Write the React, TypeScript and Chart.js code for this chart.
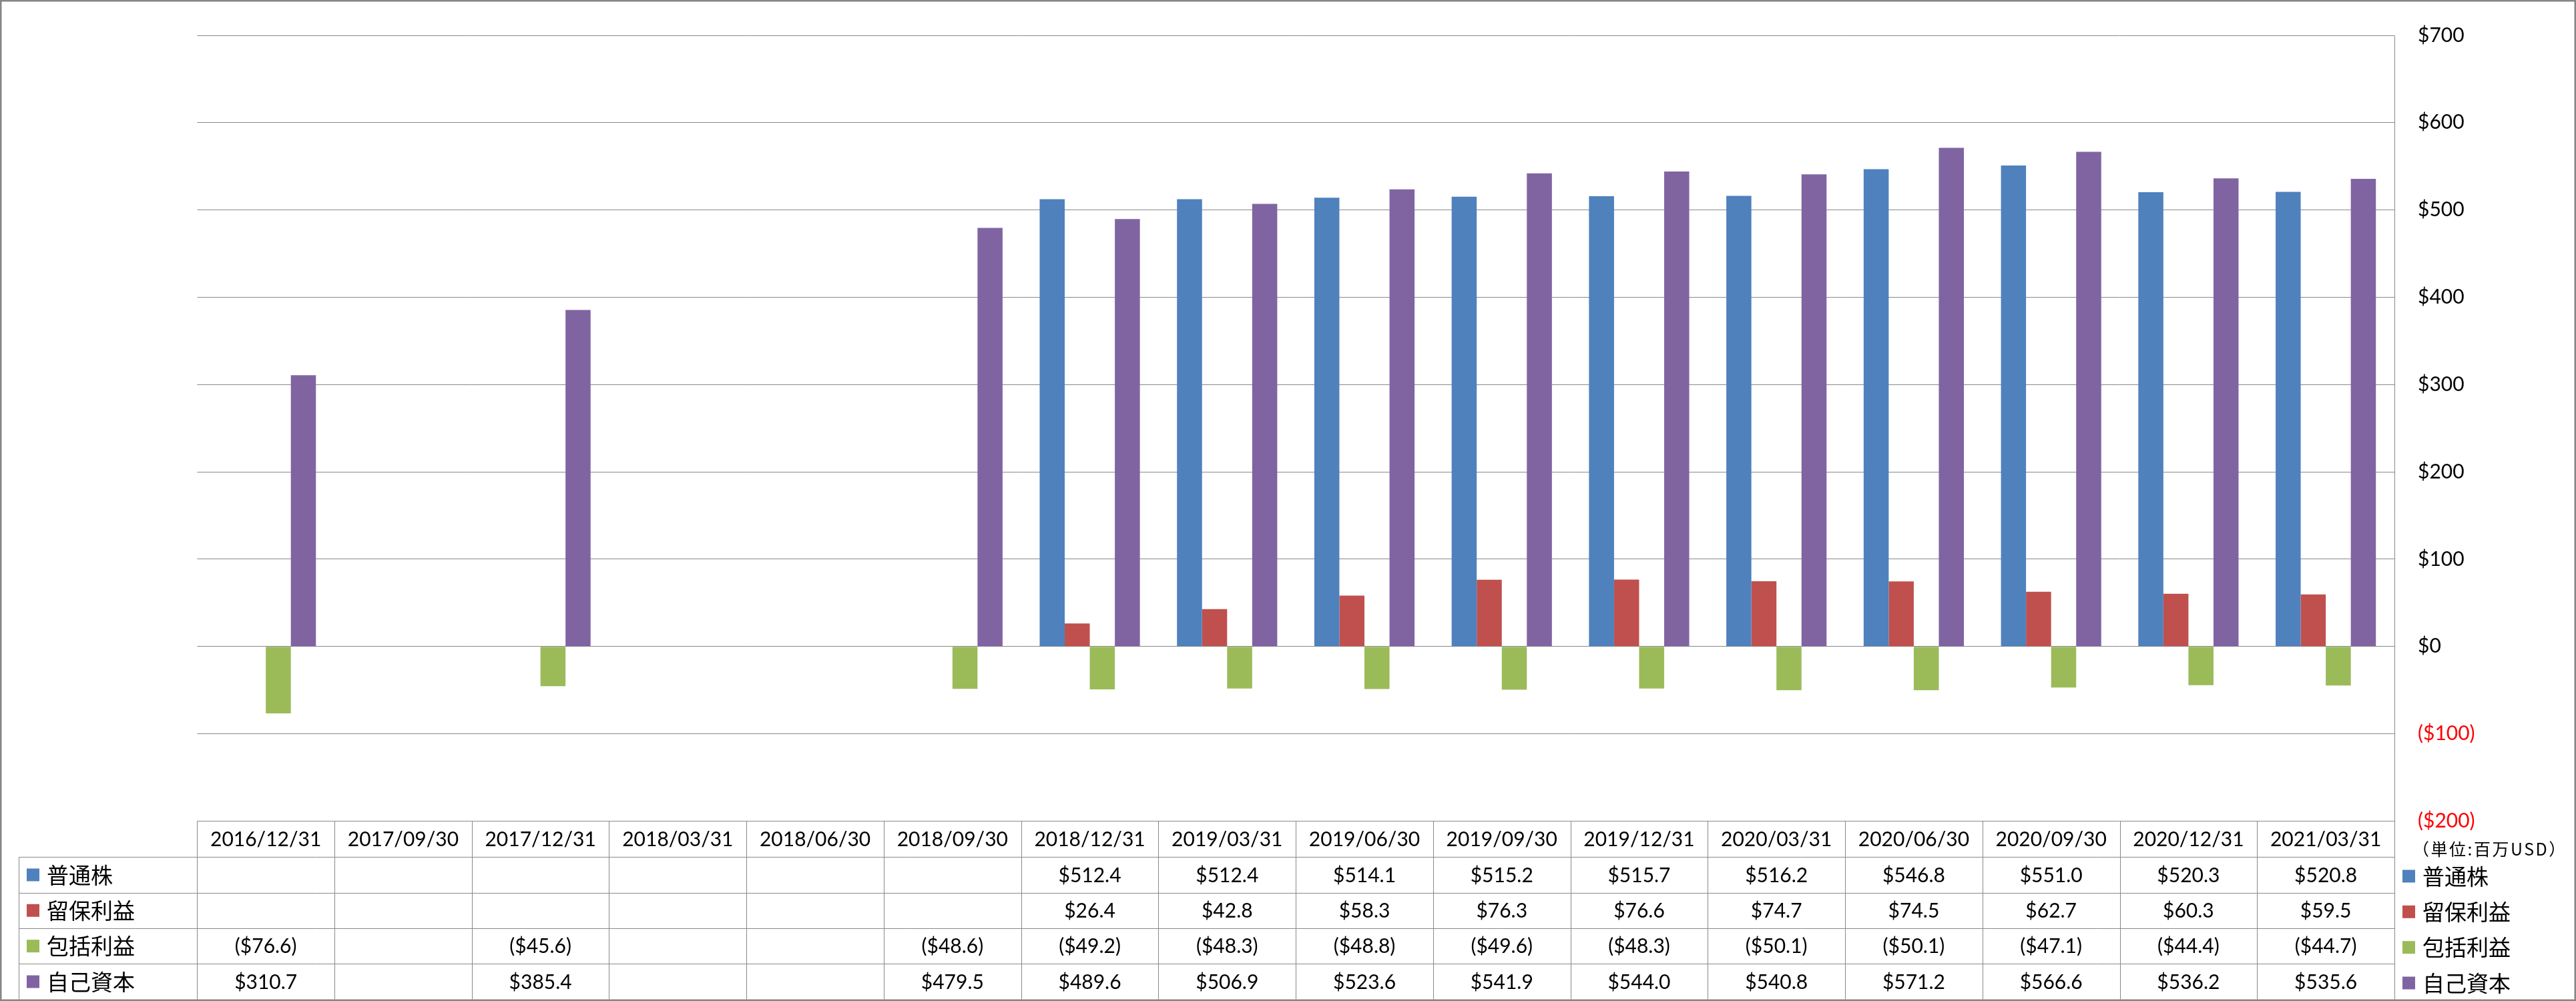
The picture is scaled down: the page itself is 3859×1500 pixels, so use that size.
import React, { useEffect, useRef } from "react";
import { Chart, registerables } from "chart.js";

Chart.register(...registerables);

// ---------- data ----------
const categories = [
  "2016/12/31", "2017/09/30", "2017/12/31", "2018/03/31", "2018/06/30", "2018/09/30",
  "2018/12/31", "2019/03/31", "2019/06/30", "2019/09/30", "2019/12/31", "2020/03/31",
  "2020/06/30", "2020/09/30", "2020/12/31", "2021/03/31",
];
const seriesNames = ["普通株", "留保利益", "包括利益", "自己資本"];
const commonStock = [null, null, null, null, null, null, 512.4, 512.4, 514.1, 515.2, 515.7, 516.2, 546.8, 551.0, 520.3, 520.8];
const retainedEarnings = [null, null, null, null, null, null, 26.4, 42.8, 58.3, 76.3, 76.6, 74.7, 74.5, 62.7, 60.3, 59.5];
const comprehensiveIncome = [-76.6, null, -45.6, null, null, -48.6, -49.2, -48.3, -48.8, -49.6, -48.3, -50.1, -50.1, -47.1, -44.4, -44.7];
const equity = [310.7, null, 385.4, null, null, 479.5, 489.6, 506.9, 523.6, 541.9, 544.0, 540.8, 571.2, 566.6, 536.2, 535.6];
const seriesColors = ["#4F81BD", "#C0504D", "#9BBB59", "#8064A2"];
const yMin = -200;
const yMax = 700;
const yStep = 100;
const unitLabel = "（単位:百万USD）";

const seriesValues = [commonStock, retainedEarnings, comprehensiveIncome, equity];

const W = 3859;
const H = 1500;
const LATIN = "Lato, 'Noto Sans', sans-serif";
const CJK = "'Noto Sans CJK JP', 'Noto Sans CJK SC', sans-serif";
const LINE = "#898989";

function fmtMoney(v: number | null): string {
  if (v === null || v === undefined) return "";
  return v < 0 ? `($${(-v).toFixed(1)})` : `$${v.toFixed(1)}`;
}

const excelTablePlugin = {
  id: "excelTable",
  beforeDraw(chart: any) {
    const ctx = chart.ctx;
    ctx.save();
    ctx.fillStyle = "#ffffff";
    ctx.fillRect(0, 0, chart.width, chart.height);
    ctx.restore();
  },
  afterDraw(chart: any) {
    const ctx = chart.ctx as CanvasRenderingContext2D;
    const { left, right, top, bottom } = chart.chartArea;
    const xs = chart.scales.x;
    const n = categories.length;
    const colW = (right - left) / n;
    const headerTop = bottom;
    const headerBottom = headerTop + 54;
    const tableBottom = 1497.7;
    const rowH = (tableBottom - headerBottom) / seriesNames.length;
    const legendLeft = 28.3;
    const crisp = (v: number) => Math.round(v) + 0.5;

    ctx.save();
    ctx.strokeStyle = LINE;
    ctx.lineWidth = 1;
    ctx.beginPath();
    // horizontal lines of the table body
    for (let r = 0; r < seriesNames.length; r++) {
      const y = crisp(headerBottom + r * rowH);
      ctx.moveTo(crisp(legendLeft), y);
      ctx.lineTo(crisp(right), y);
    }
    // column lines
    for (let i = 0; i <= n; i++) {
      const x = crisp(left + i * colW);
      ctx.moveTo(x, crisp(headerTop));
      ctx.lineTo(x, tableBottom);
    }
    // legend column left line
    ctx.moveTo(crisp(legendLeft), crisp(headerBottom));
    ctx.lineTo(crisp(legendLeft), tableBottom);
    // right axis line
    ctx.moveTo(crisp(right), crisp(top));
    ctx.lineTo(crisp(right), tableBottom);
    ctx.stroke();

    // header dates
    ctx.fillStyle = "#000000";
    ctx.textAlign = "center";
    ctx.textBaseline = "middle";
    ctx.font = `30px ${LATIN}`;
    categories.forEach((c, i) => {
      const cx = xs.getPixelForValue(i);
      ctx.fillText(c, cx, (headerTop + headerBottom) / 2 + 1);
    });

    // values
    seriesValues.forEach((vals, r) => {
      const cy = headerBottom + (r + 0.5) * rowH + 1;
      vals.forEach((v, i) => {
        const t = fmtMoney(v as number | null);
        if (t) ctx.fillText(t, xs.getPixelForValue(i), cy);
      });
    });

    // left legend column
    ctx.textAlign = "left";
    ctx.font = `33px ${CJK}`;
    seriesNames.forEach((name, r) => {
      const cy = headerBottom + (r + 0.5) * rowH;
      ctx.fillStyle = seriesColors[r];
      ctx.fillRect(40, cy - 9.5, 19, 19);
      ctx.fillStyle = "#000000";
      ctx.fillText(name, 70, cy);
    });

    // right legend
    const rx = right + 12;
    seriesNames.forEach((name, r) => {
      const cy = headerBottom + (r + 0.5) * rowH + 2;
      ctx.fillStyle = seriesColors[r];
      ctx.fillRect(rx, cy - 9.5, 19, 19);
      ctx.fillStyle = "#000000";
      ctx.font = `33px ${CJK}`;
      ctx.fillText(name, rx + 30, cy);
    });

    // unit label
    ctx.font = `25px ${CJK}`;
    ctx.fillStyle = "#000000";
    try {
      (ctx as any).letterSpacing = "2.5px";
    } catch (e) {}
    ctx.fillText(unitLabel, right + 27, 1272);
    try {
      (ctx as any).letterSpacing = "0px";
    } catch (e) {}

    // outer border
    ctx.strokeStyle = "#868686";
    ctx.lineWidth = 2.5;
    ctx.strokeRect(1.25, 1.25, chart.width - 2.5, chart.height - 2.5);
    ctx.restore();
  },
};

export default function App() {
  const canvasRef = useRef<HTMLCanvasElement | null>(null);

  useEffect(() => {
    const canvas = canvasRef.current;
    if (!canvas) return;
    const chart = new Chart(canvas, {
      type: "bar",
      data: {
        labels: categories,
        datasets: seriesNames.map((name, i) => ({
          label: name,
          data: seriesValues[i] as any,
          backgroundColor: seriesColors[i],
          borderWidth: 0,
          barPercentage: 1,
          categoryPercentage: 0.73,
        })),
      },
      options: {
        responsive: false,
        animation: false,
        devicePixelRatio: 1,
        layout: {
          padding: { left: 295.3, top: 21.3, right: 0, bottom: H - 1230.3 },
        },
        plugins: {
          legend: { display: false },
          tooltip: { enabled: false },
        },
        scales: {
          x: {
            display: false,
            offset: true,
          },
          y: {
            position: "right",
            min: yMin,
            max: yMax,
            afterFit: (scale: any) => {
              scale.width = W - 3587;
            },
            ticks: {
              stepSize: yStep,
              padding: 35,
              font: { family: LATIN, size: 30 },
              color: (c: any) => (c.tick && c.tick.value < 0 ? "#FF0000" : "#000000"),
              callback: (v: any) => (Number(v) < 0 ? `($${-Number(v)})` : `$${v}`),
            },
            grid: {
              color: LINE,
              lineWidth: 1,
              drawTicks: false,
            },
            border: { display: false },
          },
        },
      },
      plugins: [excelTablePlugin],
    });
    return () => chart.destroy();
  }, []);

  return (
    <div style={{ position: "absolute", left: 0, top: 0, width: W, height: H }}>
      <canvas ref={canvasRef} width={W} height={H} style={{ display: "block", width: W, height: H }} />
    </div>
  );
}
